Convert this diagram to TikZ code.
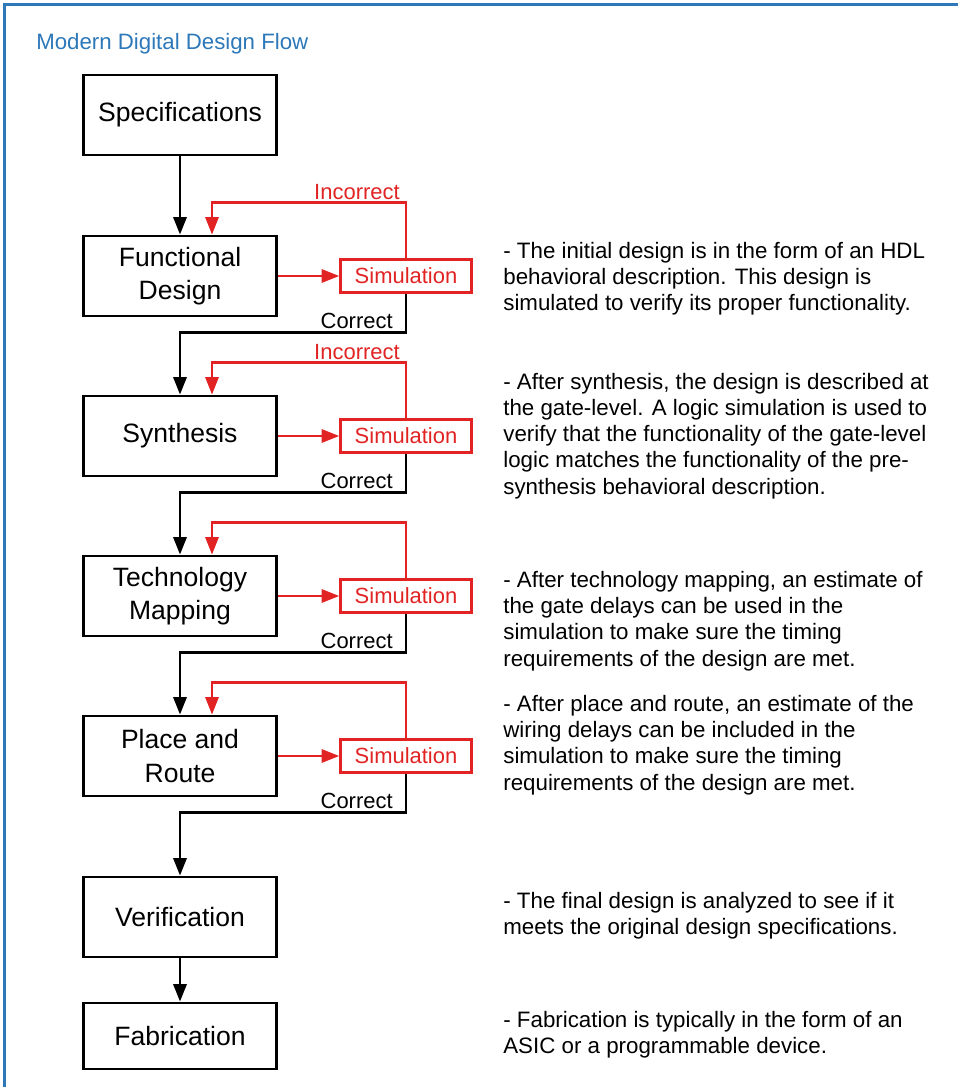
\documentclass[tikz,border=0pt]{standalone}
\usepackage{fontspec}
\setmainfont{Liberation Sans}
\usetikzlibrary{arrows.meta, calc}
\definecolor{myblue}{RGB}{45, 120, 185}
\definecolor{myred}{RGB}{225, 35, 35}

\begin{document}
\begin{tikzpicture}[x=0.02cm, y=-0.02cm, >={Triangle[length=10pt, width=7.5pt]},
  stage/.style={draw, line width=1.6pt, minimum width=3.86cm, minimum height=1.6cm, align=center, font=\fontsize{15.1}{18.8}\selectfont},
  sim/.style={draw=myred, text=myred, line width=1.4pt, minimum width=2.62cm, minimum height=0.66cm, font=\fontsize{12.5}{15}\selectfont},
  flow/.style={line width=1.6pt},
  fb/.style={myred, line width=1.4pt},
  lbl/.style={anchor=base east, inner sep=0pt, font=\fontsize{12.5}{15}\selectfont},
  desc/.style={anchor=west, inner sep=0pt, align=left, font=\fontsize{12.7}{14.9}\selectfont}]
\useasboundingbox (0,0) rectangle (958,1087);

% Frame and title
\draw[myblue, line width=1.7pt] (4.5,1087) -- (4.5,4.5) -- (958,4.5);
\node[anchor=west, inner sep=0pt, text=myblue, font=\fontsize{12.66}{15}\selectfont] (title) at (36,44) {Modern Digital Design Flow};

% Stages
\node[stage] (spec) at (180,115) {Specifications};
\node[stage] (verif) at (180,917) {Verification};
\node[stage, minimum height=1.32cm] (fab) at (180,1036) {Fabrication};
\foreach \nm/\txt/\y [count=\i] in {func/{Functional\\Design}/276, synth/Synthesis/436, tech/{Technology\\Mapping}/596, place/{Place and\\Route}/756} {
    \node[stage] (\nm) at (180,\y) {\txt};
    \node[sim] (sim\i) at (406,\y) {Simulation};
    \draw[fb, ->] (\nm.east) -- (sim\i.west);
    \draw[fb, ->] (sim\i.north) -- ++(0,-56) coordinate (inc\i) -| ([xshift=0.64cm]\nm.north);
}

% Flow
\draw[flow, ->] (spec) -- (func);
\foreach \i/\nxt in {1/synth, 2/tech, 3/place, 4/verif} {
    \draw[flow, ->] (sim\i.south) -- ++(0,39) coordinate (ok\i) -| (\nxt.north);
    \node[lbl] at ([xshift=-7.4pt, yshift=2.3pt]ok\i) {Correct};
}
\draw[flow, ->] (verif) -- (fab);
\node[lbl, text=myred] at ([xshift=-3.4pt, yshift=1.7pt]inc1) {Incorrect};
\node[lbl, text=myred] at ([xshift=-3.4pt, yshift=1.7pt]inc2) {Incorrect};

% Descriptions
\node[desc] (d1) at (503,279) {- The initial design is in the form of an HDL\\behavioral description.  This design is\\simulated to verify its proper functionality.};
\node[desc] (d2) at (503,436) {- After synthesis, the design is described at\\the gate-level.  A logic simulation is used to\\verify that the functionality of the gate-level\\logic matches the functionality of the pre-\\synthesis behavioral description.};
\node[desc] (d3) at (503,621) {- After technology mapping, an estimate of\\the gate delays can be used in the\\simulation to make sure the timing\\requirements of the design are met.};
\node[desc] (d4) at (503,745) {- After place and route, an estimate of the\\wiring delays can be included in the\\simulation to make sure the timing\\requirements of the design are met.};
\node[desc] (d5) at (503,916) {- The final design is analyzed to see if it\\meets the original design specifications.};
\node[desc] (d6) at (503,1035) {- Fabrication is typically in the form of an\\ASIC or a programmable device.};
\end{tikzpicture}
\end{document}
